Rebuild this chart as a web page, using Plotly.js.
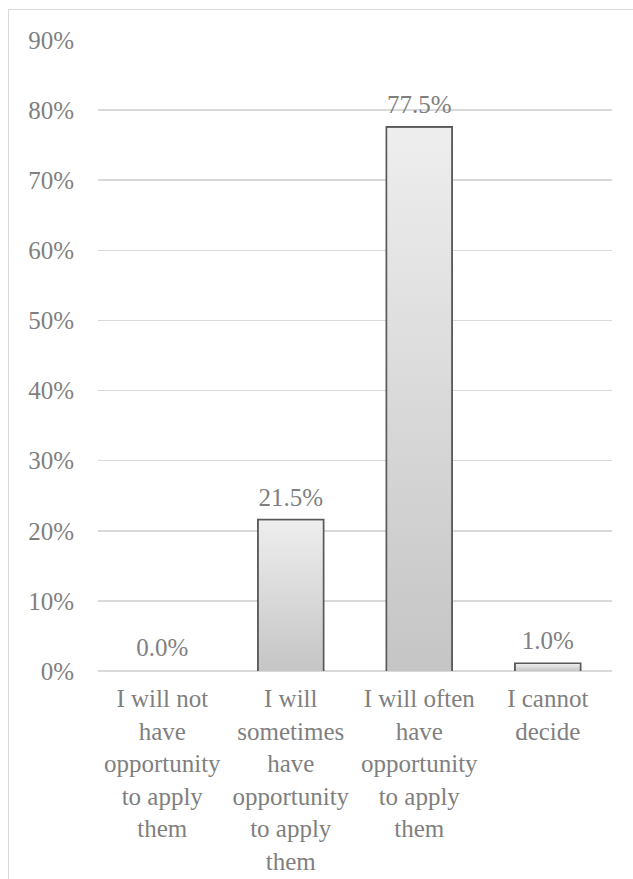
<!DOCTYPE html>
<html>
<head>
<meta charset="utf-8">
<script src="https://cdn.plot.ly/plotly-3.0.1.min.js"></script>
<style>
  html, body { margin: 0; padding: 0; background: #ffffff; }
  #wrap { position: relative; width: 633px; height: 879px; overflow: hidden; }
  #frame { position: absolute; left: 8px; top: 9px; width: 700px; height: 1000px;
           border: 1.5px solid #d9d9d9; box-sizing: border-box; }
  #chart { position: absolute; left: 0; top: 0; width: 633px; height: 879px; }
</style>
</head>
<body>
<div id="wrap">
  <div id="frame"></div>
  <div id="chart"></div>
</div>
<script>
// ---- data ----
const categories = [
  "I will not<br>have<br>opportunity<br>to apply<br>them",
  "I will<br>sometimes<br>have<br>opportunity<br>to apply<br>them",
  "I will often<br>have<br>opportunity<br>to apply<br>them",
  "I cannot<br>decide"
];
const values = [0.0, 21.5, 77.5, 1.0];          // percent
const yTickValues = [0, 10, 20, 30, 40, 50, 60, 70, 80, 90];

// ---- style ----
const textColor = "#7f7f7f";
const fontFamily = "Liberation Serif";
const barWidth = 0.5;
const positions = categories.map((_, i) => i);

const gradSvg = "<svg xmlns='http://www.w3.org/2000/svg' width='10' height='100' viewBox='0 0 10 100' preserveAspectRatio='none'>" +
  "<defs><linearGradient id='g' x1='0' y1='0' x2='0' y2='1'>" +
  "<stop offset='0' stop-color='#eeeeee'/><stop offset='1' stop-color='#c5c5c5'/>" +
  "</linearGradient></defs><rect x='0' y='0' width='10' height='100' fill='url(#g)'/></svg>";
const gradSrc = "data:image/svg+xml;charset=utf-8," + encodeURIComponent(gradSvg);

const images = [];
positions.forEach((p, i) => {
  if (values[i] > 0) {
    images.push({
      source: gradSrc, xref: "x", yref: "y",
      x: p - barWidth / 2, y: values[i],
      sizex: barWidth, sizey: values[i],
      sizing: "stretch", xanchor: "left", yanchor: "top", layer: "above"
    });
  }
});

const bars = {
  type: "bar",
  x: positions,
  y: values,
  width: barWidth,
  marker: {
    color: "#d6d6d6",
    line: { color: "#595959", width: values.map(v => (v > 0 ? 3.2 : 0)) }
  },
  hoverinfo: "skip",
  showlegend: false
};

const labels = {
  type: "scatter",
  mode: "markers+text",
  x: positions,
  y: values,
  text: values.map(v => v.toFixed(1) + "%"),
  textposition: "top center",
  marker: { size: 12, opacity: 0, color: "#ffffff" },
  textfont: { family: fontFamily, size: 25, color: textColor },
  hoverinfo: "skip",
  showlegend: false,
  cliponaxis: false
};

const layout = {
  width: 633,
  height: 879,
  margin: { l: 98, r: 21, t: 39.5, b: 208 },
  paper_bgcolor: "rgba(0,0,0,0)",
  plot_bgcolor: "rgba(0,0,0,0)",
  font: { family: fontFamily, size: 25, color: textColor },
  showlegend: false,
  xaxis: {
    range: [-0.5, categories.length - 0.5],
    tickmode: "array",
    tickvals: positions,
    ticktext: categories,
    showgrid: false,
    zeroline: false,
    showline: false,
    ticks: "",
    tickangle: 0,
    ticklabelstandoff: 10,
    tickfont: { family: fontFamily, size: 25, color: textColor },
    fixedrange: true
  },
  yaxis: {
    range: [0, 90],
    tickmode: "array",
    tickvals: yTickValues,
    ticktext: yTickValues.map(v => v + "%"),
    showgrid: true,
    gridcolor: "#d9d9d9",
    gridwidth: 1.5,
    zeroline: true,
    zerolinecolor: "#d9d9d9",
    zerolinewidth: 1.5,
    showline: false,
    ticks: "",
    ticklabelstandoff: 23,
    tickfont: { family: fontFamily, size: 25, color: textColor },
    fixedrange: true
  },
  images: images
};

Plotly.newPlot("chart", [bars, labels], layout, { displayModeBar: false, staticPlot: true });
</script>
</body>
</html>
